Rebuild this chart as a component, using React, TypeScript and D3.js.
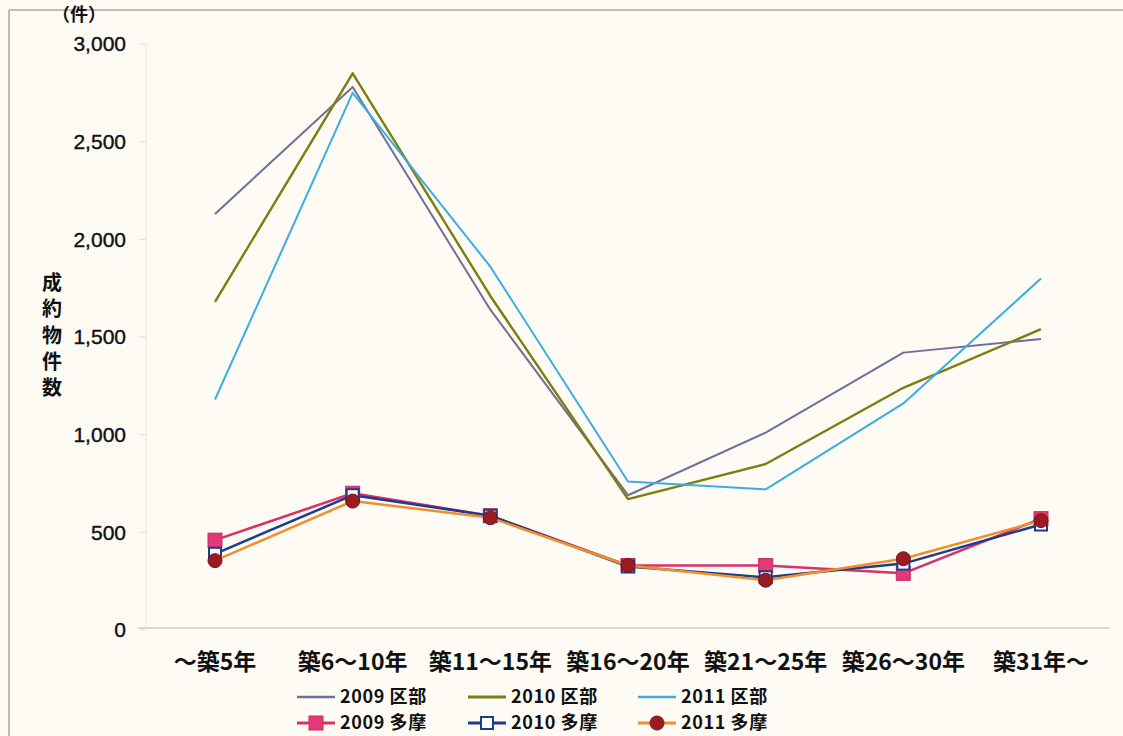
import React from "react";
import * as d3 from "d3";

// Categories: building age bands
const categories = ["～築5年", "築6～10年", "築11～15年", "築16～20年", "築21～25年", "築26～30年", "築31年～"];

// Closed-deal counts per age band
const ku2009 = [2130, 2780, 1640, 690, 1010, 1420, 1490];
const ku2010 = [1680, 2850, 1710, 670, 850, 1240, 1540];
const ku2011 = [1180, 2750, 1860, 760, 720, 1160, 1800];
const tama2009 = [460, 700, 585, 330, 330, 290, 570];
const tama2010 = [390, 690, 585, 325, 270, 340, 540];
const tama2011 = [355, 660, 575, 330, 255, 365, 560];

const yTicks = [0, 500, 1000, 1500, 2000, 2500, 3000];

type Marker = "none" | "square" | "openSquare" | "circle";
interface Series {
  name: string;
  values: number[];
  color: string;
  width: number;
  marker: Marker;
  markerFill?: string;
}

const series: Series[] = [
  { name: "2009 区部", values: ku2009, color: "#6e7099", width: 2, marker: "none" },
  { name: "2010 区部", values: ku2010, color: "#7d7d12", width: 2.4, marker: "none" },
  { name: "2011 区部", values: ku2011, color: "#3aaee0", width: 2, marker: "none" },
  { name: "2009 多摩", values: tama2009, color: "#d9306c", width: 2.5, marker: "square", markerFill: "#e03a78" },
  { name: "2010 多摩", values: tama2010, color: "#1f3c8c", width: 2.5, marker: "openSquare", markerFill: "#ffffff" },
  { name: "2011 多摩", values: tama2011, color: "#f0902a", width: 2.5, marker: "circle", markerFill: "#9a1c22" },
];

const W = 1123;
const H = 736;
const plot = { left: 146, right: 1110, top: 44, bottom: 630 };
const NFONT = "'Liberation Sans', Arial, sans-serif";
const JFONT = "'Noto Sans CJK JP', 'Liberation Sans', sans-serif";

function MarkerShape({ s, x, y }: { s: Series; x: number; y: number }) {
  if (s.marker === "square") {
    return <rect x={x - 7} y={y - 7} width={14} height={14} fill={s.markerFill} stroke="#c92a62" strokeWidth={1} />;
  }
  if (s.marker === "openSquare") {
    return <rect x={x - 6} y={y - 6} width={12} height={12} fill={s.markerFill} stroke={s.color} strokeWidth={2} />;
  }
  if (s.marker === "circle") {
    return <circle cx={x} cy={y} r={7} fill={s.markerFill} stroke="#7a1418" strokeWidth={1} />;
  }
  return null;
}

export default function App() {
  const x = d3.scalePoint<string>().domain(categories).range([215, 1041]);
  const y = d3.scaleLinear().domain([0, 3000]).range([plot.bottom, plot.top]);
  const line = d3
    .line<number>()
    .x((_, i) => x(categories[i]) as number)
    .y((d) => y(d));

  const legendCols = [297, 468, 638];
  const legendRows = [697, 723];

  return (
    <svg width={W} height={H} style={{ position: "absolute", left: 0, top: 0 }}>
      <rect x={0} y={0} width={W} height={H} fill="#fdfbf4" />
      {/* outer frame */}
      <line x1={9} y1={10} x2={W} y2={10} stroke="#a8a8a8" strokeWidth={1.5} />
      <line x1={9} y1={10} x2={9} y2={H} stroke="#a8a8a8" strokeWidth={1.5} />

      {/* axes */}
      <line x1={plot.left} y1={plot.top} x2={plot.left} y2={plot.bottom} stroke="#ebe8e0" strokeWidth={1} />
      <line x1={138} y1={628} x2={plot.right} y2={628} stroke="#cfccc4" strokeWidth={1.5} />

      {yTicks.map((t) => (
        <g key={t}>
          <line x1={139} x2={plot.left} y1={y(t)} y2={y(t)} stroke="#e2dfd8" />
          <text x={126} y={y(t)} dy="0.35em" textAnchor="end" fontFamily={NFONT} fontWeight={400} fontSize={21} fill="#111" stroke="#111" strokeWidth={0.4}>
            {d3.format(",")(t)}
          </text>
        </g>
      ))}

      <text x={52} y={21} fontFamily={JFONT} fontWeight={700} fontSize={18} fill="#111">（件）</text>
      {"成約物件数".split("").map((c, i) => (
        <text key={i} x={52} y={283 + i * 26.3} textAnchor="middle" dy="0.35em" fontFamily={JFONT} fontWeight={700} fontSize={20} fill="#111">
          {c}
        </text>
      ))}

      {categories.map((c) => (
        <text key={c} x={x(c)} y={662} textAnchor="middle" dy="0.35em" fontFamily={JFONT} fontWeight={700} fontSize={23} fill="#111">
          {c}
        </text>
      ))}

      {series.map((s) => (
        <g key={s.name}>
          <path d={line(s.values) || ""} fill="none" stroke={s.color} strokeWidth={s.width} strokeLinejoin="round" />
          {s.values.map((v, i) => (
            <MarkerShape key={i} s={s} x={x(categories[i]) as number} y={y(v)} />
          ))}
        </g>
      ))}

      {/* legend */}
      {series.map((s, i) => {
        const lx = legendCols[i % 3];
        const ly = legendRows[Math.floor(i / 3)];
        return (
          <g key={s.name}>
            <line x1={lx} x2={lx + 38} y1={ly} y2={ly} stroke={s.color} strokeWidth={s.width + 0.5} />
            <MarkerShape s={s} x={lx + 19} y={ly} />
            <text x={lx + 43} y={ly} dy="0.35em" fontFamily={JFONT} fontWeight={700} fontSize={18} letterSpacing={0.6} fill="#111">
              {s.name}
            </text>
          </g>
        );
      })}
    </svg>
  );
}
